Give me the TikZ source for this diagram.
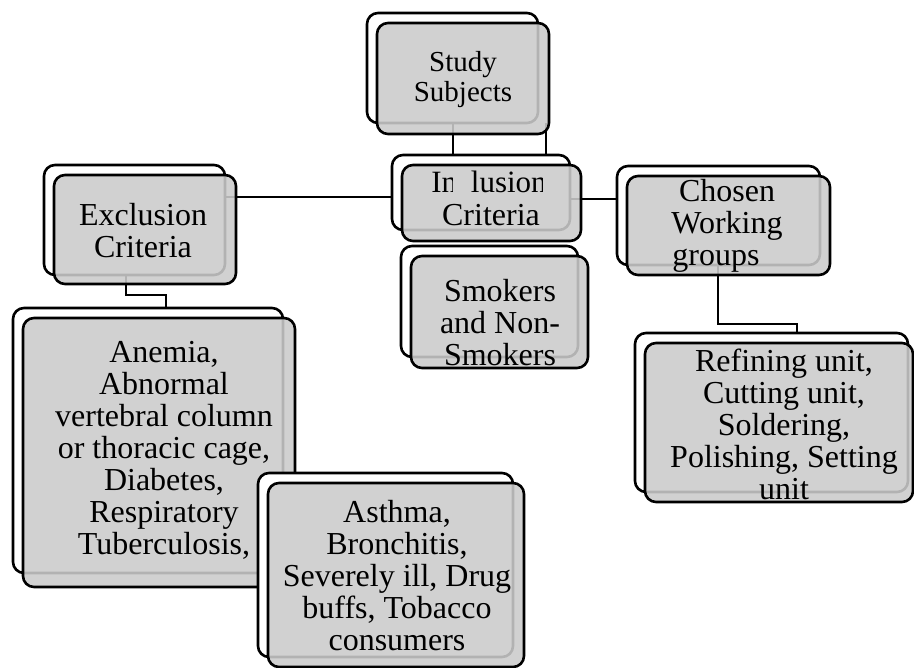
\documentclass[tikz,border=0pt]{standalone}
\usepackage{fontspec}
\setmainfont{Liberation Serif}
\definecolor{boxgray}{RGB}{203,203,203}
\begin{document}
\begin{tikzpicture}[x=1pt,y=-1pt,
  backbox/.style={draw=black, line width=2.6pt, fill=white, rounded corners=11pt, inner sep=0pt, outer sep=0pt},
  frontbox/.style={draw=black, line width=2.6pt, fill=boxgray, fill opacity=0.88, rounded corners=11pt, inner sep=0pt, outer sep=0pt},
  conn/.style={draw=black, line width=2.4pt},
  boxtext/.style={align=center, font=\fontsize{32}{32}\selectfont, inner sep=0pt, text=black}]
\useasboundingbox (0,0) rectangle (914,668);
% back boxes
\node[backbox, minimum width=171pt, minimum height=110pt] (studyB) at (452.5,68) {};
\node[backbox, minimum width=178pt, minimum height=75pt] (inclB) at (481,192.5) {};
\node[backbox, minimum width=181pt, minimum height=110pt] (exclB) at (134.5,220) {};
\node[backbox, minimum width=203pt, minimum height=99pt] (chosenB) at (718.5,215.5) {};
\node[backbox, minimum width=177pt, minimum height=111pt] (smokB) at (489.5,301.5) {};
\node[backbox, minimum width=270pt, minimum height=265pt] (anemB) at (148,440.5) {};
\node[backbox, minimum width=273pt, minimum height=159pt] (refB) at (771.5,412.5) {};
% connectors
\draw[conn] (453,0 |- studyB.south) -- (453,0 |- inclB.north);
\draw[conn] (546,0 |- studyB.south) -- (546,0 |- inclB.north);
\draw[conn] (exclB.east |- 0,197) -- (inclB.west |- 0,197);
\draw[conn] (inclB.east |- 0,199) -- (chosenB.west |- 0,199);
\draw[conn] (126,0 |- exclB.south) -- (126,295) -- (166,295) -- (166,0 |- anemB.north);
\draw[conn] (718,0 |- chosenB.south) -- (718,324) -- (797,324) -- (797,0 |- refB.north);
% front boxes
\node[frontbox, minimum width=172pt, minimum height=111pt] (studyF) at (463,78.5) {};
\node[frontbox, minimum width=179pt, minimum height=76pt] (inclF) at (491.5,203) {};
\node[frontbox, minimum width=182pt, minimum height=109pt] (exclF) at (145,229.5) {};
\node[frontbox, minimum width=203pt, minimum height=99pt] (chosenF) at (728.5,225.5) {};
\node[frontbox, minimum width=177pt, minimum height=112pt] (smokF) at (499.5,312) {};
\node[frontbox, minimum width=272pt, minimum height=269pt] (anemF) at (159,452.5) {};
\node[frontbox, minimum width=268pt, minimum height=159pt] (refF) at (779,422.5) {};
% texts
\node[boxtext, font=\fontsize{29}{30}\selectfont] (studyT) at (463,80) {Study\\Subjects};
\begin{scope}
\clip (402,160) rectangle (452,205) (470.5,160) rectangle (542.5,205);
\node[boxtext, font=\fontsize{31}{32}\selectfont] (inclT1) at (489,182) {Inclusion};
\end{scope}
\node[boxtext] (inclT2) at (491,215) {Criteria};
\node[boxtext] (exclT) at (143,231) {Exclusion\\Criteria};
\node[boxtext] (chosenT) at (727,226) {Chosen\\Working\\groups\hspace*{22pt}};
\node[boxtext] (smokT) at (500,322.5) {Smokers\\and Non-\\Smokers};
\node[boxtext] (anemT) at (164,450) {Anemia,\\Abnormal\\vertebral column\\or thoracic cage,\\Diabetes,\\Respiratory\\Tuberculosis,};
\node[boxtext] (refT) at (784,424) {Refining unit,\\Cutting unit,\\Soldering,\\Polishing, Setting\\unit};
% asthma box on top
\node[backbox, minimum width=255pt, minimum height=184pt] (asthB) at (385.5,565) {};
\node[frontbox, minimum width=256pt, minimum height=184pt] (asthF) at (396,575) {};
\node[boxtext] (asthT) at (397,576) {Asthma,\\Bronchitis,\\Severely ill, Drug\\buffs, Tobacco\\consumers};
\end{tikzpicture}
\end{document}
